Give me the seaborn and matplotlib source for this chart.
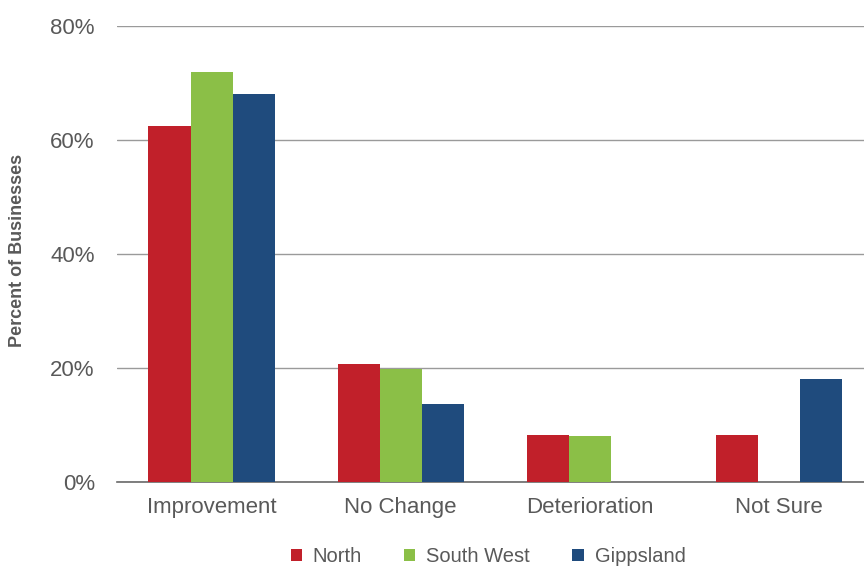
import matplotlib
matplotlib.use("Agg")
import matplotlib.pyplot as plt
import pandas as pd
import seaborn as sns
from matplotlib.ticker import PercentFormatter

categories = ["Improvement", "No Change", "Deterioration", "Not Sure"]
regions = ["North", "South West", "Gippsland"]
north = [62.5, 20.7, 8.2, 8.2]
south_west = [72.0, 19.8, 8.0, 0.0]
gippsland = [68.0, 13.6, 0.0, 18.1]
colors = ["#C1202A", "#8BBF47", "#1F4B7D"]

rows = []
for region, vals in zip(regions, [north, south_west, gippsland]):
    for cat, v in zip(categories, vals):
        rows.append({"category": cat, "region": region, "pct": v})
df = pd.DataFrame(rows)

sns.set_style("white")
plt.rcParams["font.family"] = ["Liberation Sans", "DejaVu Sans"]

fig = plt.figure(figsize=(8.64, 5.70), dpi=100)
ax = fig.add_axes([117 / 864, 1 - 482 / 570, 1 - 117 / 864, (482 - 26) / 570])

sns.barplot(data=df, x="category", y="pct", hue="region", order=categories,
            hue_order=regions, palette=colors, width=0.667, saturation=1,
            errorbar=None, ax=ax, zorder=3, linewidth=0)

ax.set_xlim(-0.5, 3.45)
ax.set_ylim(0, 80)
ax.set_yticks([0, 20, 40, 60, 80])
ax.yaxis.set_major_formatter(PercentFormatter(decimals=0))
ax.yaxis.grid(True, color="#9a9a9a", linewidth=1.0, zorder=0)
ax.set_axisbelow(True)
for side in ["top", "right", "left"]:
    ax.spines[side].set_visible(False)
ax.spines["bottom"].set_color("#6a6a6a")
ax.spines["bottom"].set_linewidth(1.2)
ax.tick_params(axis="both", length=0, labelsize=16, labelcolor="#595959")
ax.tick_params(axis="x", pad=11)
ax.tick_params(axis="y", pad=16)
ax.set_xlabel("")
ax.set_ylabel("Percent of Businesses", fontsize=13, fontweight="bold",
              color="#595959")
ax.yaxis.set_label_coords(-0.122, 0.507)

ax.legend_.remove()
handles, labels = ax.get_legend_handles_labels()
fig.legend(handles, labels, loc="center", bbox_to_anchor=(488 / 864, 1 - 557 / 570),
           ncol=3, frameon=False, fontsize=14.5, labelcolor="#595959",
           handlelength=0.55, handleheight=0.55, handletextpad=0.55,
           columnspacing=2.1)

fig.savefig("out.png", dpi=100)
